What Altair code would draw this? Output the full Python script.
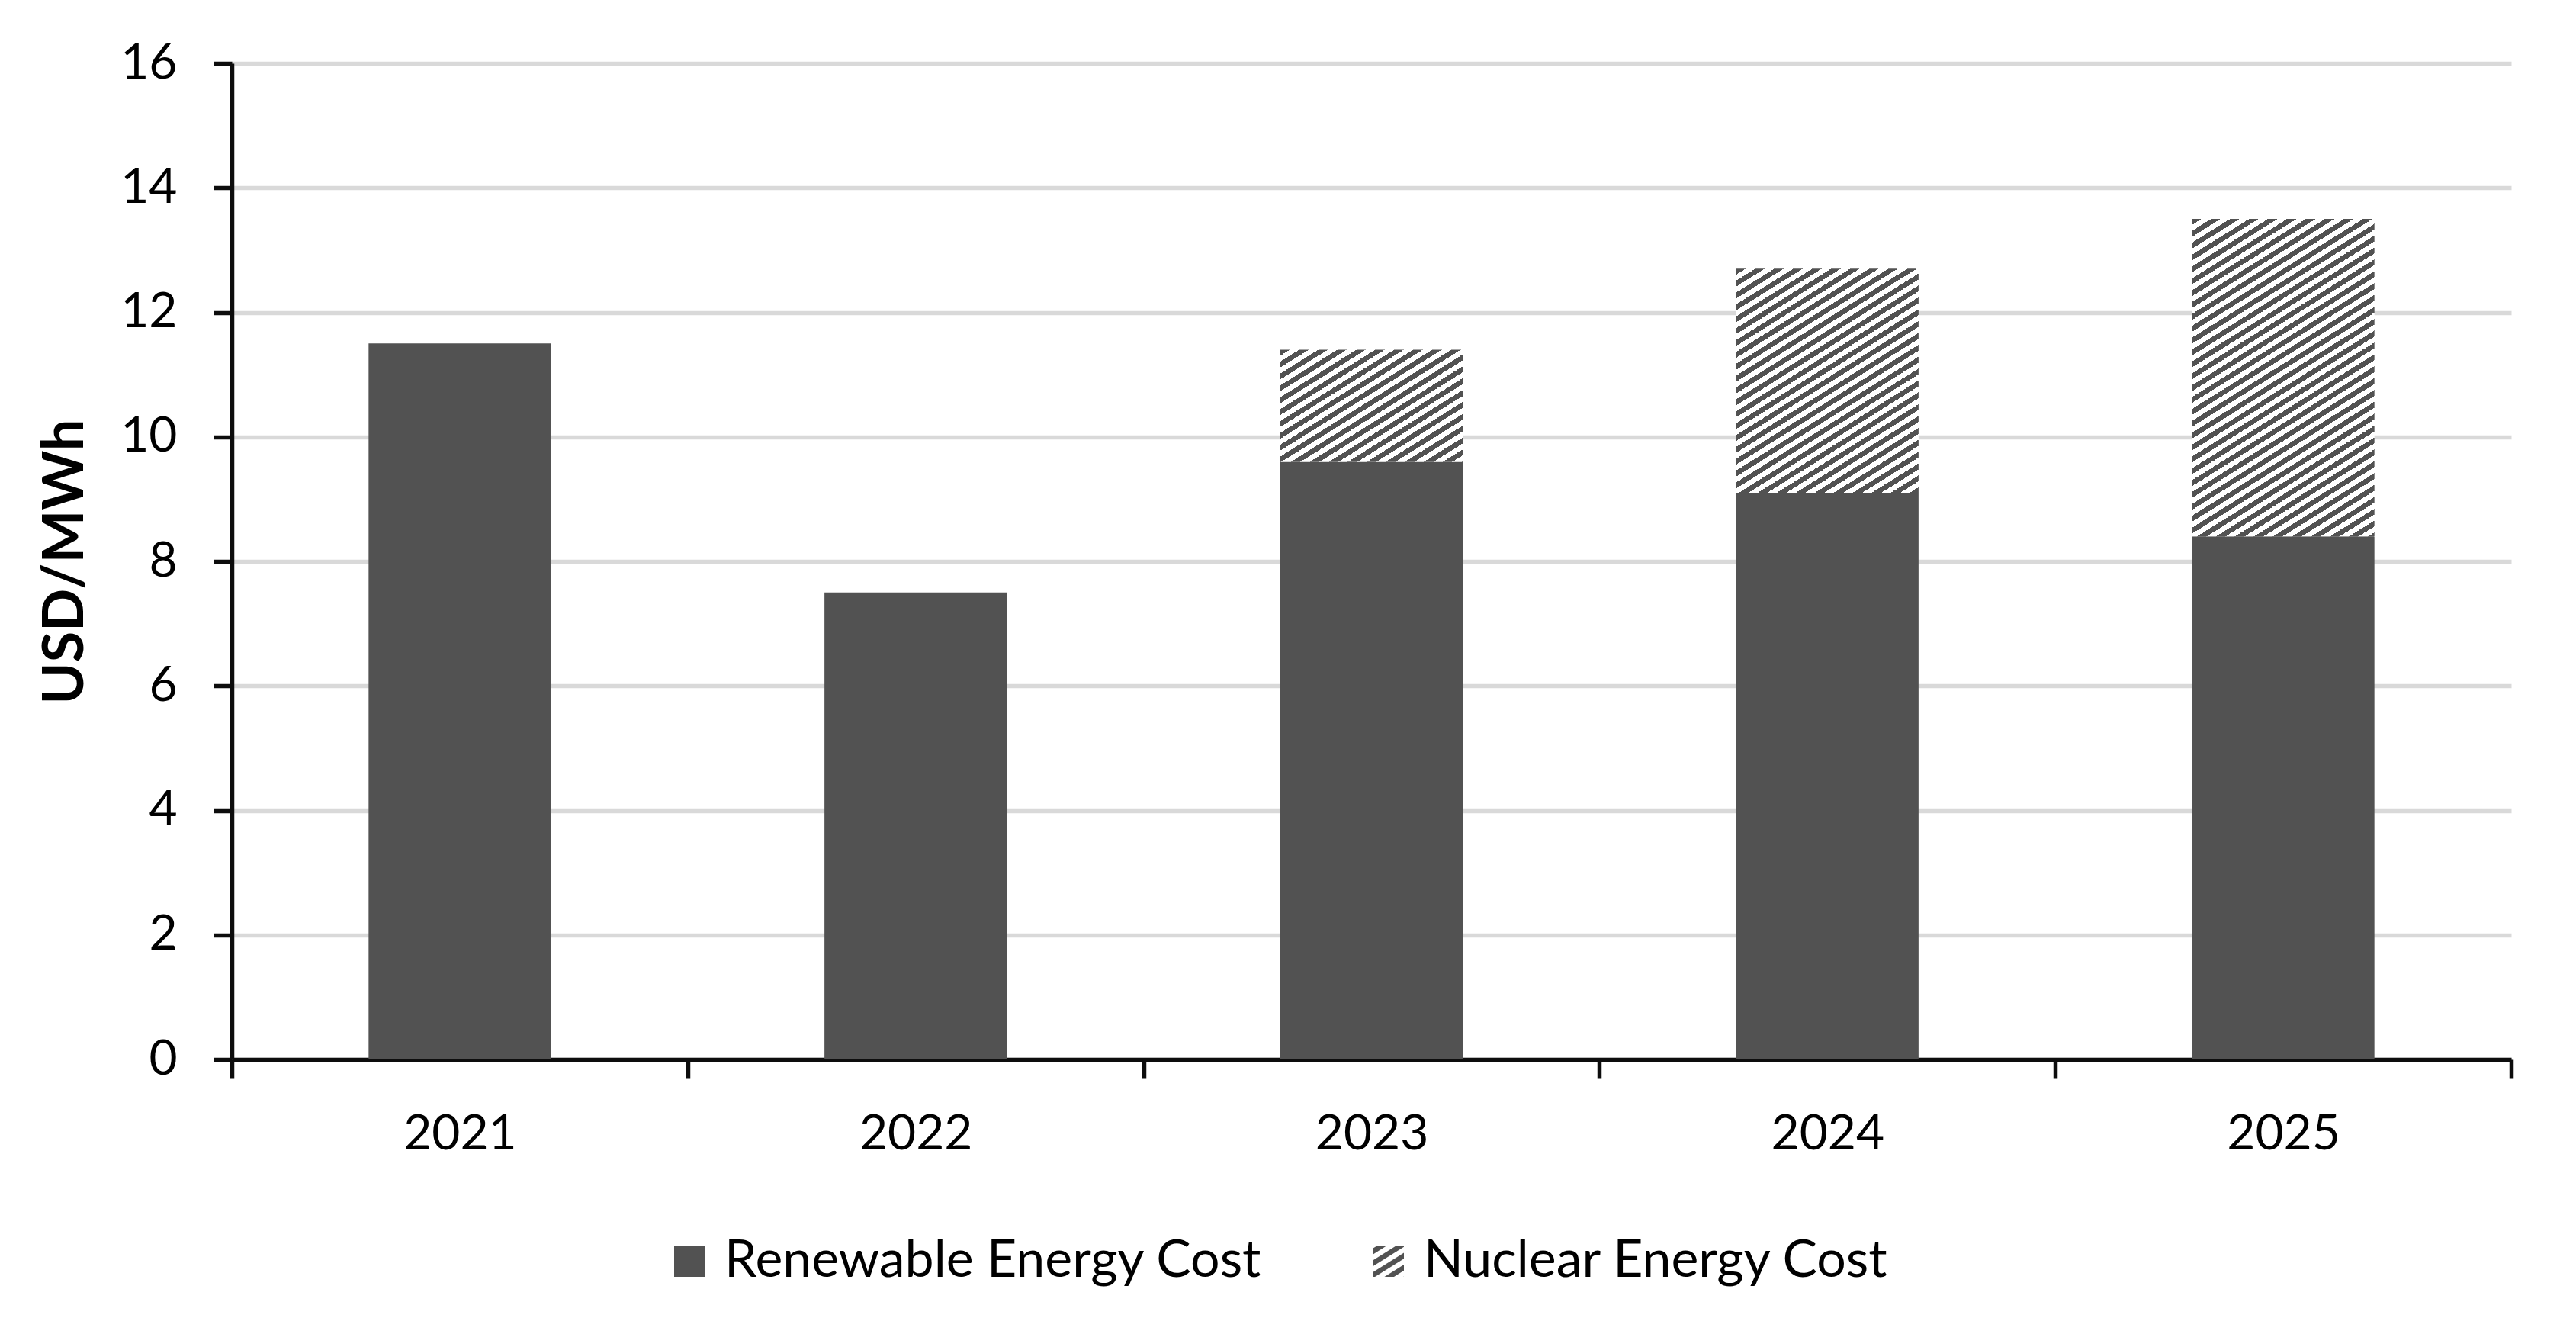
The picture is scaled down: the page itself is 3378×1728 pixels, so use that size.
import math
import altair as alt
import pandas as pd

# ---------------- data ----------------
years = ["2021", "2022", "2023", "2024", "2025"]
renewable = [11.5, 7.5, 9.6, 9.1, 8.4]
nuclear = [0.0, 0.0, 1.8, 3.6, 5.1]
series_names = ["Renewable Energy  Cost", "Nuclear Energy Cost"]
y_ticks = [0, 2, 4, 6, 8, 10, 12, 14, 16]
y_title = "USD/MWh"

# ---------------- style / layout ----------------
W_PLOT = 2989
H_PLOT = 1306
Y_MAX = 16
BAR_BAND = 0.4
DARK = "#525252"
LIGHT = "#ffffff"
FONT = "Lato"
THETA = math.radians(32)   # hatch stripe angle from horizontal
PERIOD = 13.2              # hatch period (px, perpendicular)

df = pd.DataFrame({
    "year": years,
    "renewable": renewable,
    "nuclear": nuclear,
})
df["base"] = df["renewable"]
df["top"] = df["renewable"] + df["nuclear"]


def hatch_gradient(h_px, w_px):
    a = w_px * math.sin(THETA)
    b = h_px * math.cos(THETA)
    s = (a + b) / (a * a + b * b)
    L = a + b
    n = int(math.ceil(L / PERIOD))
    stops = []
    for k in range(n):
        o0 = min(1.0, k * PERIOD / L)
        o1 = min(1.0, (k + 0.5) * PERIOD / L)
        o2 = min(1.0, (k + 1) * PERIOD / L)
        stops += [alt.GradientStop(offset=o0, color=DARK),
                  alt.GradientStop(offset=o1, color=DARK),
                  alt.GradientStop(offset=o1, color=LIGHT),
                  alt.GradientStop(offset=o2, color=LIGHT)]
    return alt.LinearGradient(gradient="linear", stops=stops,
                              x1=0, y1=0, x2=s * a, y2=s * b)


def clip(poly, a, b, c, sign):
    out = []
    n = len(poly)
    for i in range(n):
        p = poly[i]
        q = poly[(i + 1) % n]
        fp = sign * (a * p[0] + b * p[1] - c)
        fq = sign * (a * q[0] + b * q[1] - c)
        if fp >= 0:
            out.append(p)
        if (fp >= 0) != (fq >= 0):
            t = fp / (fp - fq)
            out.append((p[0] + t * (q[0] - p[0]), p[1] + t * (q[1] - p[1])))
    return out


def hatch_symbol(period_units):
    sn, cs = math.sin(THETA), math.cos(THETA)
    square = [(-1, -1), (1, -1), (1, 1), (-1, 1)]
    fmin, fmax = -(sn + cs), sn + cs
    parts = []
    c = fmin + 0.1
    while c < fmax:
        poly = clip(square, sn, cs, c, 1)
        poly = clip(poly, sn, cs, c + period_units / 2, -1)
        if len(poly) >= 3:
            parts.append("M" + "L".join(f"{x:.3f},{y:.3f}" for x, y in poly) + "Z")
        c += period_units
    return "".join(parts)


band_step = W_PLOT / len(years)
bar_w = band_step * BAR_BAND
px_per_unit = H_PLOT / Y_MAX

xs = alt.Scale(paddingInner=0, paddingOuter=0)
ys = alt.Scale(domain=[0, Y_MAX], nice=False)
yaxis = alt.Axis(values=y_ticks, format="d")
bar_width = alt.RelativeBandSize(band=BAR_BAND)

base = alt.Chart(df)

ren = base.mark_bar(color=DARK, width=bar_width).encode(
    x=alt.X("year:N", title=None, scale=xs),
    y=alt.Y("renewable:Q", title=y_title, scale=ys, axis=yaxis),
)

layers = []

legend_df = pd.DataFrame({"series": series_names,
                          "year": [years[0]] * len(series_names),
                          "v": [0] * len(series_names)})
legend_layer = alt.Chart(legend_df).mark_point(filled=True, color=DARK, opacity=0).encode(
    x=alt.X("year:N", title=None, scale=xs),
    y=alt.Y("v:Q", title=y_title, scale=ys, axis=yaxis),
    shape=alt.Shape(
        "series:N",
        scale=alt.Scale(domain=series_names,
                        range=["square", hatch_symbol(PERIOD / 20.0)]),
        legend=alt.Legend(
            title=None, orient="none", legendX=566, legendY=1537,
            direction="horizontal", labelFont=FONT, labelFontSize=68,
            labelColor="#000000", labelLimit=3000, symbolSize=1600,
            labelOffset=12, columnPadding=114, symbolStrokeWidth=0,
            symbolOpacity=1, symbolFillColor=DARK, padding=0,
        ),
    ),
)
layers.append(legend_layer)
layers.append(ren)

for yr, nv, rv in zip(years, nuclear, renewable):
    if nv <= 0:
        continue
    grad = hatch_gradient(nv * px_per_unit, bar_w)
    layers.append(
        base.transform_filter(alt.datum.year == yr).mark_bar(fill=grad, width=bar_width).encode(
            x=alt.X("year:N", title=None, scale=xs),
            y=alt.Y("base:Q", title=y_title, scale=ys, axis=yaxis),
            y2="top:Q",
        )
    )

chart = alt.layer(*layers).properties(
    width=W_PLOT,
    height=H_PLOT,
    autosize=alt.AutoSizeParams(type="none"),
    padding={"left": 296, "top": 75, "right": 77, "bottom": 331},
    background="#ffffff",
).configure_view(
    stroke=None
).configure_axisX(
    domainColor="#0d0d0d", domainWidth=5.5, tickColor="#0d0d0d", tickWidth=5.5,
    tickSize=24, tickBand="extent", labelFont=FONT, labelFontSize=64,
    labelColor="#000000", labelPadding=42, labelLimit=2000, grid=False,
    labelAngle=0, zindex=1,
).configure_axisY(
    domainColor="#0d0d0d", domainWidth=5.5, tickColor="#0d0d0d", tickWidth=5.5,
    tickSize=24, labelFont=FONT, labelFontSize=64, labelColor="#000000",
    labelPadding=48, grid=True, gridColor="#d9d9d9", gridWidth=5.5,
    titleFont=FONT, titleFontSize=74, titleFontWeight="bold",
    titleColor="#000000", titlePadding=33,
)

chart.save("out.html", embed_options={"renderer": "svg", "actions": False})
